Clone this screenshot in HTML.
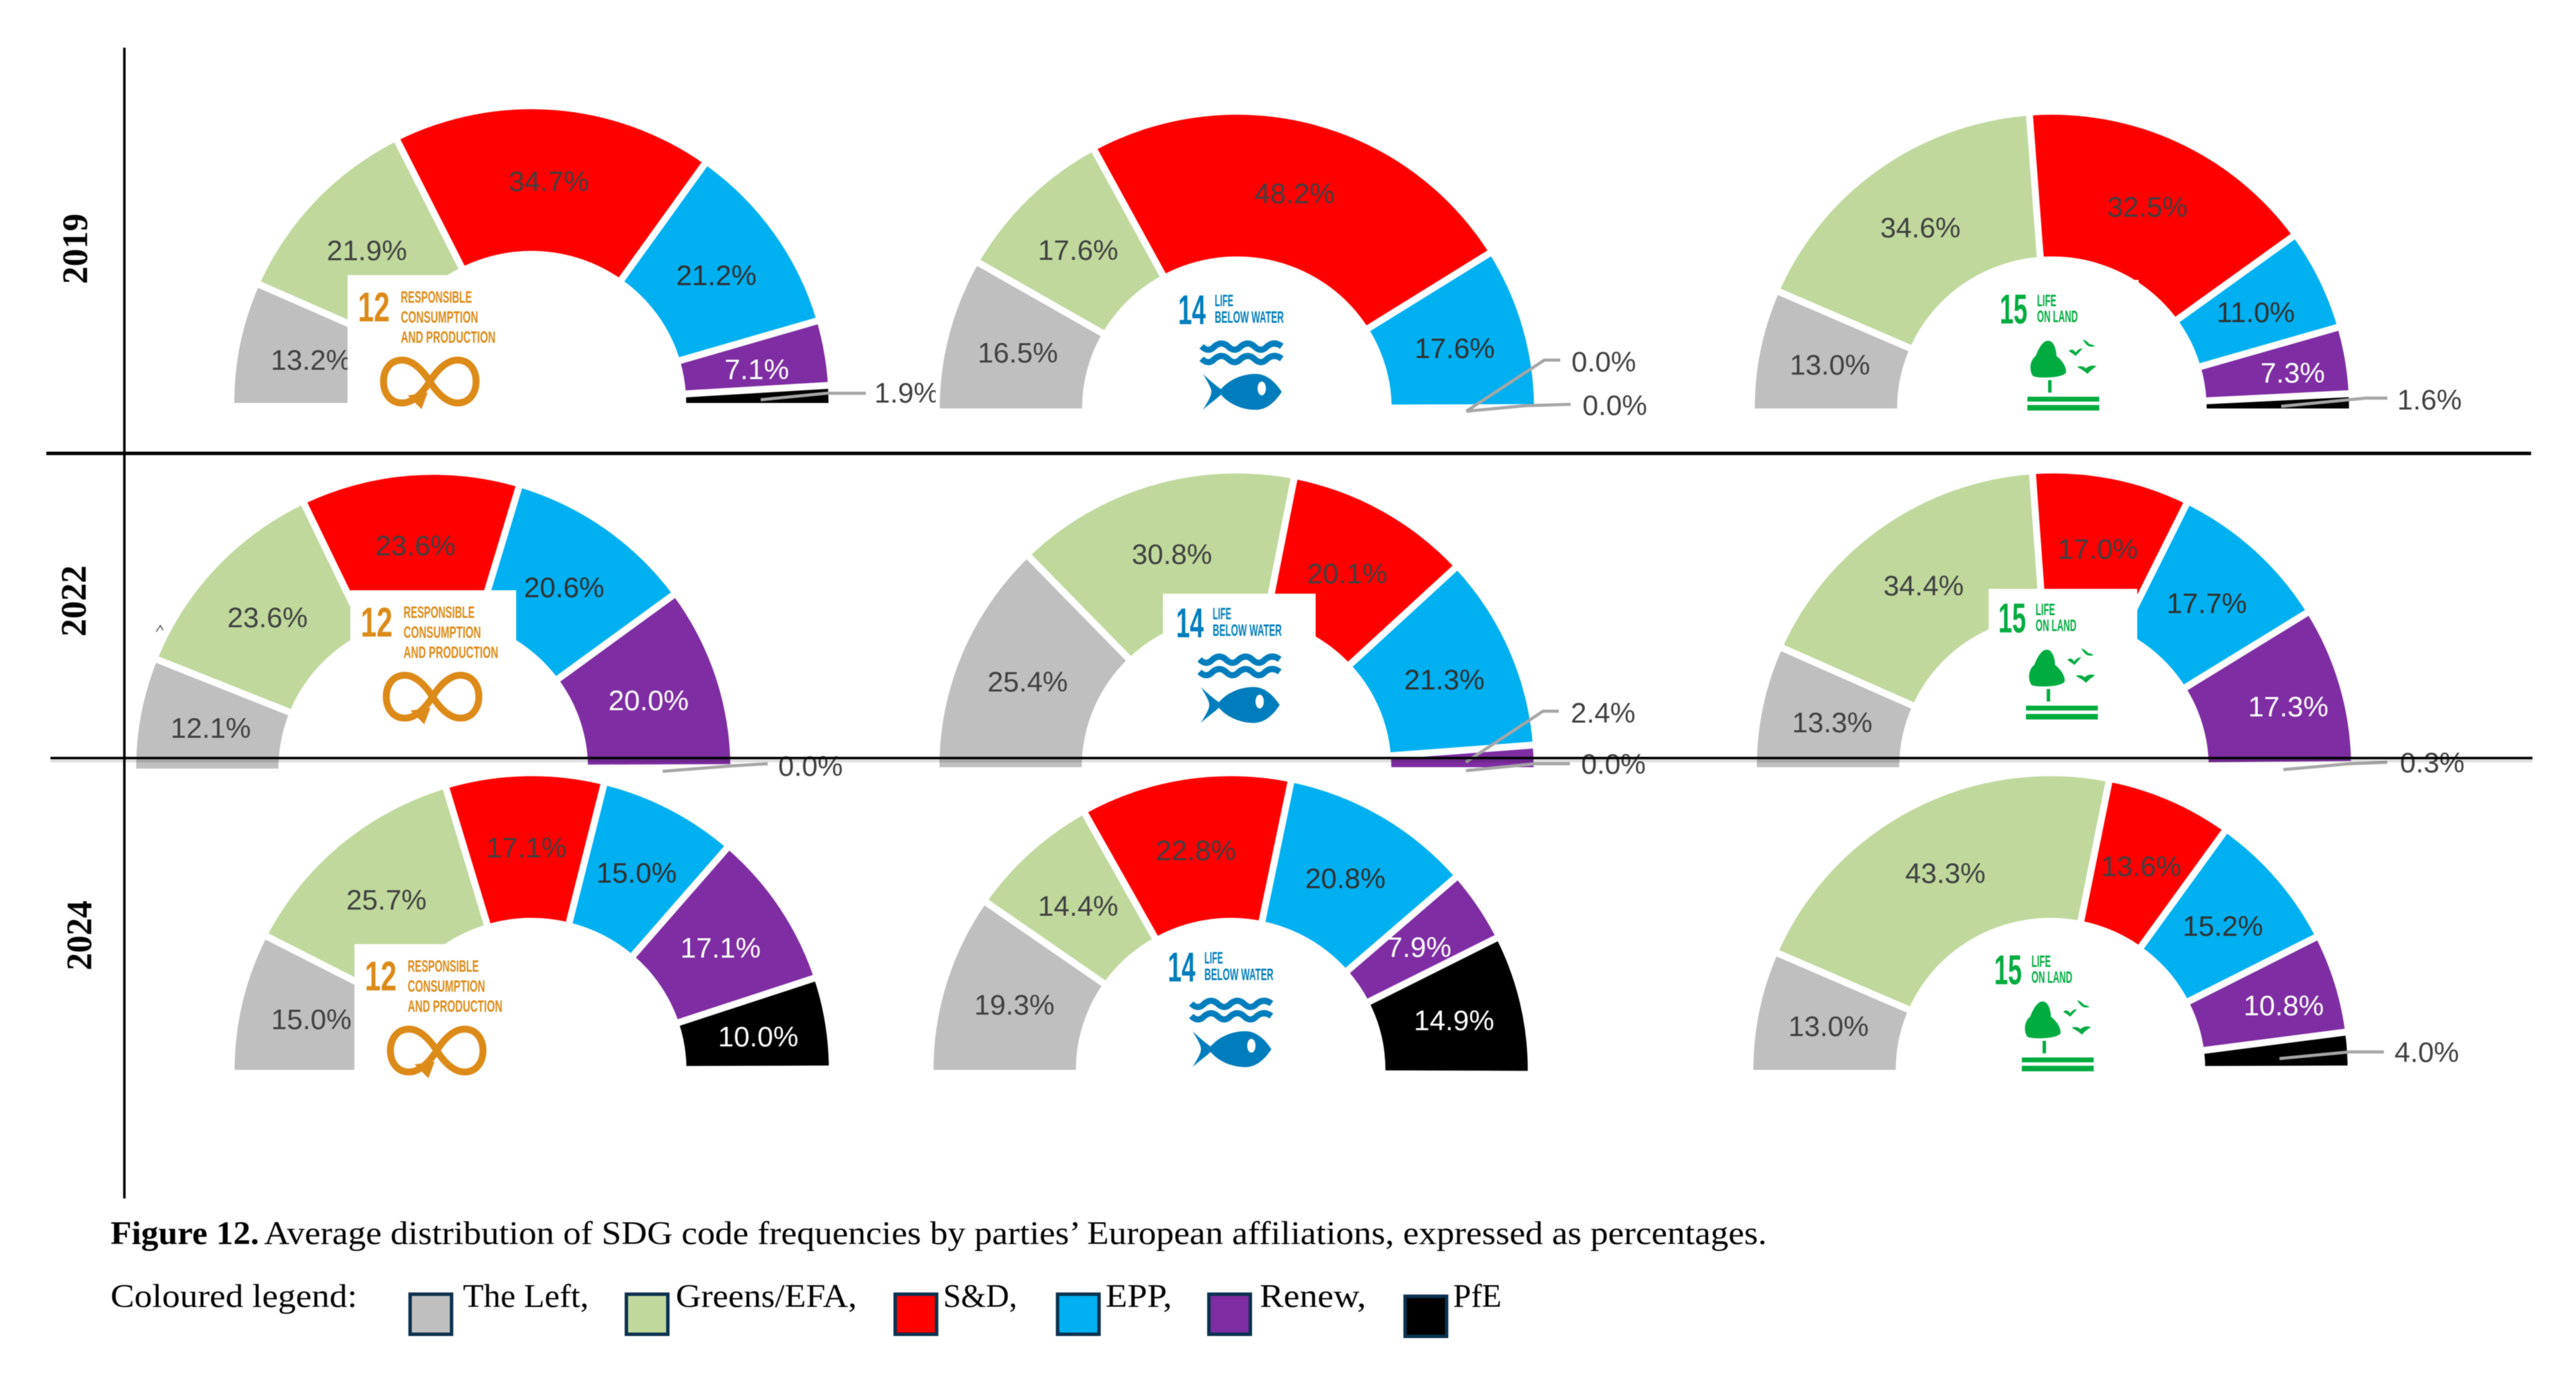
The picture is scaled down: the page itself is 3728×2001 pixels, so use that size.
<!DOCTYPE html>
<html lang="en">
<head>
<meta charset="utf-8">
<title>Figure 12 - SDG code frequencies by European affiliation</title>
<style>
  html, body { margin: 0; padding: 0; background: #fff; }
  svg { display: block; filter: blur(0.6px); }
  .cap { font-family: "Liberation Serif", serif; font-size: 48px; fill: #000; }
  .yr { font-family: "Liberation Serif", serif; font-size: 52px; font-weight: bold; fill: #000; }
  .pct { font-family: "Liberation Sans", sans-serif; font-size: 41px; text-anchor: middle; }
  .logo-text { font-family: "Liberation Sans", sans-serif; font-weight: bold; }
</style>
</head>
<body>
<svg id="figure" width="3728" height="2001" viewBox="0 0 3728 2001" xmlns="http://www.w3.org/2000/svg">
  <rect x="0" y="0" width="3728" height="2001" fill="#fff"/>
  <g id="gauges"></g>

  <rect x="73" y="1098" width="3592" height="5" fill="#000" fill-opacity="0.13"/>
  <rect x="67" y="653.5" width="3596" height="5" fill="#000"/>
  <rect x="73" y="1095" width="3592" height="3.5" fill="#000"/>
  <rect x="178.2" y="69" width="3.6" height="1665" fill="#000"/>

  <text class="yr" transform="translate(126,411) rotate(-90)" textLength="102" lengthAdjust="spacingAndGlyphs">2019</text>
  <text class="yr" transform="translate(124,921) rotate(-90)" textLength="103" lengthAdjust="spacingAndGlyphs">2022</text>
  <text class="yr" transform="translate(132,1404) rotate(-90)" textLength="101" lengthAdjust="spacingAndGlyphs">2024</text>
  <path d="M226 914 L232 905 L236 912" fill="none" stroke="#555" stroke-width="1.5"/>

  <text class="cap" x="160" y="1800" font-weight="bold" textLength="215" lengthAdjust="spacingAndGlyphs">Figure 12.</text>
  <text class="cap" x="382" y="1800" textLength="2175" lengthAdjust="spacingAndGlyphs">Average distribution of SDG code frequencies by parties’ European affiliations, expressed as percentages.</text>

  <g>
    <text class="cap" x="160" y="1891" textLength="357" lengthAdjust="spacingAndGlyphs">Coloured legend:</text>
    <rect x="593.5" y="1872.5" width="60" height="58" fill="#BFBFBF" stroke="#0B3250" stroke-width="5"/>
    <text class="cap" x="670" y="1891" textLength="182" lengthAdjust="spacingAndGlyphs">The Left,</text>
    <rect x="906.5" y="1872.5" width="60" height="58" fill="#C0D89C" stroke="#0B3250" stroke-width="5"/>
    <text class="cap" x="978" y="1891" textLength="262" lengthAdjust="spacingAndGlyphs">Greens/EFA,</text>
    <rect x="1295.5" y="1872.5" width="60" height="58" fill="#FF0000" stroke="#0B3250" stroke-width="5"/>
    <text class="cap" x="1365" y="1891" textLength="107" lengthAdjust="spacingAndGlyphs">S&amp;D,</text>
    <rect x="1530.5" y="1872.5" width="60" height="58" fill="#00B0F0" stroke="#0B3250" stroke-width="5"/>
    <text class="cap" x="1600" y="1891" textLength="96" lengthAdjust="spacingAndGlyphs">EPP,</text>
    <rect x="1749.5" y="1872.5" width="60" height="58" fill="#7F2DA3" stroke="#0B3250" stroke-width="5"/>
    <text class="cap" x="1823" y="1891" textLength="154" lengthAdjust="spacingAndGlyphs">Renew,</text>
    <rect x="2033.5" y="1875.5" width="60" height="58" fill="#000" stroke="#0B3250" stroke-width="5"/>
    <text class="cap" x="2103" y="1891" textLength="70" lengthAdjust="spacingAndGlyphs">PfE</text>
  </g>
</svg>

<script>
// ---- chart data ----
const parties = ['The Left', 'Greens/EFA', 'S&D', 'EPP', 'Renew', 'PfE'];
const years = [2019, 2022, 2024];
const goals = [12, 14, 15];

const sdg12Year2019 = [13.2, 21.9, 34.7, 21.2, 7.1, 1.9];
const sdg14Year2019 = [16.5, 17.6, 48.2, 17.6, 0.0, 0.0];
const sdg15Year2019 = [13.0, 34.6, 32.5, 11.0, 7.3, 1.6];

const sdg12Year2022 = [12.1, 23.6, 23.6, 20.6, 20.0, 0.0];
const sdg14Year2022 = [25.4, 30.8, 20.1, 21.3, 2.4, 0.0];
const sdg15Year2022 = [13.3, 34.4, 17.0, 17.7, 17.3, 0.3];

const sdg12Year2024 = [15.0, 25.7, 17.1, 15.0, 17.1, 10.0];
const sdg14Year2024 = [19.3, 14.4, 22.8, 20.8, 7.9, 14.9];
const sdg15Year2024 = [13.0, 43.3, 13.6, 15.2, 10.8, 4.0];

const seriesGrid = [
  [sdg12Year2019, sdg14Year2019, sdg15Year2019],
  [sdg12Year2022, sdg14Year2022, sdg15Year2022],
  [sdg12Year2024, sdg14Year2024, sdg15Year2024]
];

// ---- styling and layout (not data) ----
const sliceFill = ['#BFBFBF', '#C0D89C', '#FF0000', '#00B0F0', '#7F2DA3', '#000000'];
const labelFill = ['#404040', '#404040', '#404040', '#303030', '#FFFFFF', '#FFFFFF'];
const OUTER_RX = 430, OUTER_RY = 425, INNER_RX = 224, INNER_RY = 220, GAP = 10;

const placement = [
  [{cx: 769, by: 583, lx: 518, ly: 422}, {cx: 1790, by: 591, lx: 1705, ly: 427}, {cx: 2969.5, by: 591, lx: 2894, ly: 427}],
  [{cx: 627, by: 1112, lx: 522, ly: 878}, {cx: 1789.5, by: 1110, lx: 1702, ly: 880}, {cx: 2972.5, by: 1110, lx: 2892, ly: 874}],
  [{cx: 769.5, by: 1548, lx: 528, ly: 1390}, {cx: 1781, by: 1548, lx: 1690, ly: 1378}, {cx: 2967.5, by: 1548, lx: 2886, ly: 1383}]
];

// Callouts for thin slices: keyed "row-col-slice".
const calloutPlacement = {
  '0-0-5': {elbow: [1196, 569], end: [1253, 569], text: [1312, 568]},
  '0-1-4': {elbow: [2235, 521], end: [2258, 521], text: [2321, 523]},
  '0-1-5': {elbow: [2207, 587], end: [2273, 585], text: [2337, 586]},
  '0-2-5': {elbow: [3424, 576], end: [3455, 576], text: [3516, 578]},
  '1-0-5': {elbow: [1061, 1108], end: [1111, 1105], text: [1173, 1108]},
  '1-1-4': {elbow: [2233, 1029], end: [2256, 1029], text: [2320, 1031]},
  '1-1-5': {elbow: [2222, 1105], end: [2272, 1105], text: [2335, 1105]},
  '1-2-5': {elbow: [3400, 1105], end: [3455, 1103], text: [3520, 1103]},
  '2-2-5': {elbow: [3400, 1522], end: [3450, 1522], text: [3512, 1522]}
};

// Manual label shifts from the default mid-slice spot: "row-col-slice".
const labelShift = {
  '0-0-0': [2, 2], '0-0-4': [3, 4], '0-2-4': [25, -1],
  '1-0-2': [0, -2], '1-2-4': [24, 0],
  '2-0-5': [4, 1], '2-1-5': [4, 0], '2-2-4': [24, 0]
};

const SVG_NS = 'http://www.w3.org/2000/svg';
function svgEl(tag, attrs, parent) {
  const node = document.createElementNS(SVG_NS, tag);
  for (const key in attrs) node.setAttribute(key, attrs[key]);
  parent.appendChild(node);
  return node;
}

// ---- axis functions: percentage of the half circle -> position ----
function angleAt(pct) { return Math.PI * (1 - pct / 100); }
function pointAt(frame, pct, rx, ry) {
  const a = angleAt(pct);
  return [frame.cx + rx * Math.cos(a), frame.by - ry * Math.sin(a)];
}
function slicePath(frame, startPct, endPct) {
  const a = pointAt(frame, startPct, OUTER_RX, OUTER_RY);
  const b = pointAt(frame, endPct, OUTER_RX, OUTER_RY);
  const c = pointAt(frame, endPct, INNER_RX, INNER_RY);
  const d = pointAt(frame, startPct, INNER_RX, INNER_RY);
  return 'M' + a[0] + ' ' + a[1] +
    ' A' + OUTER_RX + ' ' + OUTER_RY + ' 0 0 1 ' + b[0] + ' ' + b[1] +
    ' L' + c[0] + ' ' + c[1] +
    ' A' + INNER_RX + ' ' + INNER_RY + ' 0 0 0 ' + d[0] + ' ' + d[1] + ' Z';
}

// ---- SDG logos ----
function addLogoText(group, str, x, y, size, len, fill) {
  const t = svgEl('text', {x: x, y: y, 'font-size': size, fill: fill, textLength: len, lengthAdjust: 'spacingAndGlyphs', class: 'logo-text'}, group);
  t.textContent = str;
  
  
  return t;
}
function addLogoShape(group, tag, attrs, name) {
  const s = svgEl(tag, attrs, group);
  
  
  return s;
}
function drawLogo12(g) {
  const c = '#DC8A18';
  addLogoShape(g, 'rect', {x: -15, y: -24, width: 240, height: 232, fill: '#fff'}, 'logo-background');
  addLogoText(g, '12', 0, 43, 60, 46, c);
  addLogoText(g, 'RESPONSIBLE', 62, 16, 24, 103, c);
  addLogoText(g, 'CONSUMPTION', 62, 45, 24, 112, c);
  addLogoText(g, 'AND PRODUCTION', 62, 74, 24, 137, c);
  addLogoShape(g, 'path', {d: 'M104 130 C90 108 76 99 64 99 C46 99 37 114 37 130 C37 146 46 161 64 161 C76 161 90 152 104 130 C118 108 132 99 144 99 C162 99 171 114 171 130 C171 146 162 161 144 161 C132 161 118 152 104 130 Z', fill: 'none', stroke: c, 'stroke-width': 10}, 'infinity-symbol');
  addLogoShape(g, 'path', {d: 'M72 150 L101 146 L92 170 Z', fill: c}, 'infinity-arrow');
}
function drawLogo14(g) {
  const c = '#007DBC';
  addLogoShape(g, 'rect', {x: -19, y: -21, width: 221, height: 220, fill: '#fff'}, 'logo-background');
  addLogoText(g, '14', 0, 42, 60, 40, c);
  addLogoText(g, 'LIFE', 53, 16, 24, 27, c);
  addLogoText(g, 'BELOW WATER', 53, 40, 24, 100, c);
  const wave = 'q10 10 19 0 q10 -8 19 0 q10 10 19 0 q10 -8 19 0 q10 10 19 0 q10 -8 21 0';
  addLogoShape(g, 'path', {d: 'M34 74 ' + wave, fill: 'none', stroke: c, 'stroke-width': 9}, 'wave-upper');
  addLogoShape(g, 'path', {d: 'M34 92 ' + wave, fill: 'none', stroke: c, 'stroke-width': 9}, 'wave-lower');
  addLogoShape(g, 'path', {d: 'M36 114 C44 122 56 132 62 136 C76 120 96 114 112 114 C130 114 142 128 150 140 C142 152 130 166 112 166 C96 166 76 160 62 144 C56 150 44 158 36 166 C44 152 48 146 48 140 C48 134 44 128 36 114 Z', fill: c}, 'fish');
  addLogoShape(g, 'ellipse', {cx: 121, cy: 135, rx: 6, ry: 10, fill: '#fff'}, 'fish-eye');
}
function drawLogo15(g) {
  const c = '#00AB3F';
  addLogoShape(g, 'rect', {x: -14, y: -22, width: 215, height: 215, fill: '#fff'}, 'logo-background');
  addLogoText(g, '15', 0, 41, 60, 40, c);
  addLogoText(g, 'LIFE', 54, 16, 24, 28, c);
  addLogoText(g, 'ON LAND', 54, 39, 24, 59, c);
  addLogoShape(g, 'path', {d: 'M70 66 C78 66 82 78 82 88 C90 94 97 104 96 112 C92 120 56 121 48 117 C42 108 44 94 52 88 C56 78 62 66 70 66 Z', fill: c}, 'tree-canopy');
  addLogoShape(g, 'rect', {x: 70, y: 123, width: 5, height: 18, fill: c}, 'tree-trunk');
  addLogoShape(g, 'rect', {x: 40, y: 147, width: 104, height: 7, fill: c}, 'ground-bar-upper');
  addLogoShape(g, 'rect', {x: 40, y: 159, width: 104, height: 8, fill: c}, 'ground-bar-lower');
  addLogoShape(g, 'path', {d: 'M100 81 Q105 76 110 83 Q114 77 120 77 Q113 85 110 88 Q105 84 100 81 Z', fill: c}, 'bird');
  addLogoShape(g, 'path', {d: 'M120 64 Q126 66 130 71 Q134 71 138 74 Q130 76 126 72 Q122 68 120 64 Z', fill: c}, 'bird');
  addLogoShape(g, 'path', {d: 'M112 104 Q119 101 125 106 Q131 100 140 103 Q131 109 127 114 Q122 109 112 104 Z', fill: c}, 'bird');
}
const logoDrawers = {12: drawLogo12, 14: drawLogo14, 15: drawLogo15};

// ---- build gauges ----
const layer = document.getElementById('gauges');

seriesGrid.forEach(function (rowSeries, row) {
  rowSeries.forEach(function (values, col) {
    const frame = placement[row][col];
    const goal = goals[col];
    const year = years[row];

    const gauge = svgEl('g', {}, layer);
    
    

    // Chart 2019/SDG14 sits on a white panel that trims the neighbouring label.
    if (row === 0 && col === 1) {
      const panel = svgEl('rect', {x: 1354, y: 530, width: 30, height: 62, fill: '#fff'}, gauge);
      
      
    }

    let cum = 0;
    const bounds = [];
    values.forEach(function (v, i) {
      const start = cum;
      cum += v;
      bounds.push({start: start, end: cum});
      if (v <= 0) return;
      const slice = svgEl('path', {d: slicePath(frame, start, cum), fill: sliceFill[i]}, gauge);
      
      
    });

    // White gaps between neighbouring slices.
    values.forEach(function (v, i) {
      const b = bounds[i].end;
      if (v <= 0 || b >= 99.95) return;
      const p1 = pointAt(frame, b, INNER_RX - 12, INNER_RY - 12);
      const p2 = pointAt(frame, b, OUTER_RX + 12, OUTER_RY + 12);
      const gap = svgEl('line', {x1: p1[0], y1: p1[1], x2: p2[0], y2: p2[1], stroke: '#fff', 'stroke-width': GAP}, gauge);
      
      
    });

    // Value labels and leader lines.
    values.forEach(function (v, i) {
      const key = row + '-' + col + '-' + i;
      const mid = (bounds[i].start + bounds[i].end) / 2;
      const anchor = pointAt(frame, mid, 328, 324);
      const callout = calloutPlacement[key];
      const shift = labelShift[key] || [0, 0];
      let tx = anchor[0] + shift[0], ty = anchor[1] + 2 + shift[1], fill = labelFill[i];
      if (callout) {
        const leader = svgEl('polyline', {
          points: [[anchor[0] + 4, anchor[1] + 5], callout.elbow, callout.end].map(function (p) { return p.join(','); }).join(' '),
          fill: 'none', stroke: '#A6A6A6', 'stroke-width': 4.5
        }, gauge);
        
        
        tx = callout.text[0];
        ty = callout.text[1];
        fill = '#404040';
      }
      const label = svgEl('text', {x: tx, y: ty + 14.5, fill: fill, class: 'pct'}, gauge);
      label.textContent = v.toFixed(1) + '%';
      
      
    });

    // SDG logo pasted above the chart.
    const logo = svgEl('g', {transform: 'translate(' + frame.lx + ',' + frame.ly + ')'}, gauge);
    
    
    logoDrawers[goal](logo);
  });
});
</script>
</body>
</html>
